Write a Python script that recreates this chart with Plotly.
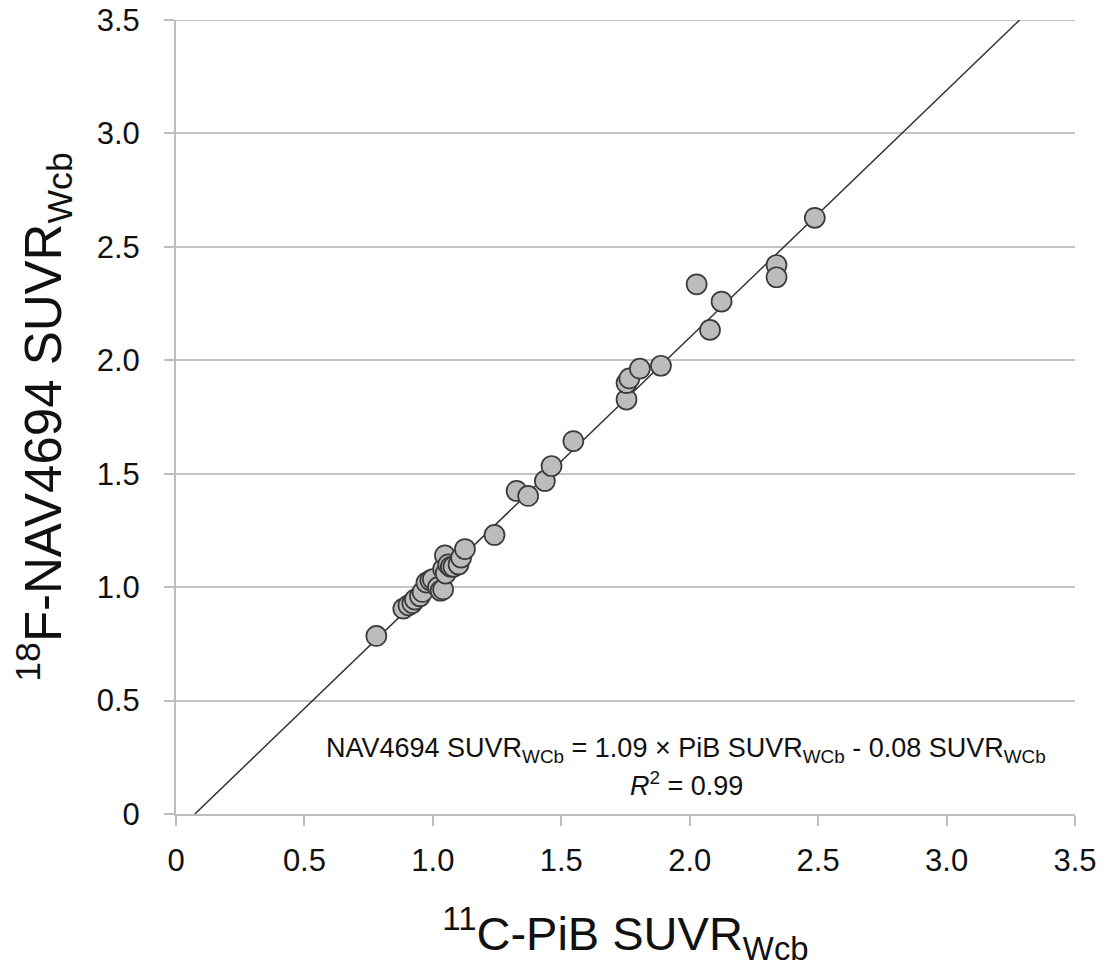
import plotly.graph_objects as go

# Data (11C-PiB SUVR vs 18F-NAV4694 SUVR)
pib_suvr = [0.78, 0.885, 0.905, 0.92, 0.93, 0.95, 0.96, 0.975, 0.99, 1.00, 1.02, 1.03,
            1.04, 1.04, 1.05, 1.047, 1.06, 1.07, 1.08, 1.10, 1.11, 1.125, 1.24,
            1.326, 1.371, 1.436, 1.462, 1.547, 1.754, 1.754, 1.765, 1.806, 1.888,
            2.027, 2.079, 2.124, 2.338, 2.338, 2.487]
nav_suvr = [0.785, 0.905, 0.92, 0.93, 0.945, 0.96, 0.979, 1.02, 1.03, 1.035, 1.00, 0.984,
            0.99, 1.08, 1.06, 1.14, 1.10, 1.09, 1.09, 1.10, 1.13, 1.168, 1.23,
            1.424, 1.402, 1.468, 1.534, 1.644, 1.827, 1.90, 1.92, 1.963, 1.976,
            2.335, 2.134, 2.259, 2.420, 2.366, 2.628]

fit_slope = 1.09
fit_intercept = -0.08
axis_max = 3.5

tick_vals = [0, 0.5, 1.0, 1.5, 2.0, 2.5, 3.0, 3.5]
tick_text = ["0", "0.5", "1.0", "1.5", "2.0", "2.5", "3.0", "3.5"]

line_x = [(0 - fit_intercept) / fit_slope, (axis_max - fit_intercept) / fit_slope]
line_y = [fit_slope * v + fit_intercept for v in line_x]

grid_color = "#c4c4c4"
fig = go.Figure()
# top gridline (plotly drops the gridline that sits on the plot edge)
fig.add_hline(y=tick_vals[-1], line=dict(color=grid_color, width=2), layer="below")
fig.add_trace(go.Scatter(
    x=line_x, y=line_y, mode="lines",
    line=dict(color="#333333", width=1.5), showlegend=False, hoverinfo="skip"))
fig.add_trace(go.Scatter(
    x=pib_suvr, y=nav_suvr, mode="markers",
    marker=dict(size=20, color="#bcbcbc", line=dict(color="#3a3a3a", width=1.7)),
    showlegend=False))

font_fam = "Liberation Sans, Arial, sans-serif"
axis_grey = "#bdbdbd"
fig.update_layout(
    width=1104, height=971,
    margin=dict(l=168, r=37, t=12, b=165),
    plot_bgcolor="white", paper_bgcolor="white",
    font=dict(family=font_fam, color="#111111"),
    xaxis=dict(
        range=[0, axis_max], tickvals=tick_vals, ticktext=tick_text,
        automargin=False, ticklabeloverflow="allow",
        showgrid=False, zeroline=False, showline=True, linecolor=axis_grey, linewidth=2,
        ticks="outside", ticklen=10, tickcolor=axis_grey, tickwidth=2,
        ticklabelstandoff=8,
        tickfont=dict(size=31, family=font_fam, color="#111111"),
        title=dict(text="<sup>11</sup>C-PiB SUVR<sub>Wcb</sub>",
                   font=dict(size=47, family=font_fam, color="#111111"), standoff=40),
    ),
    yaxis=dict(
        range=[0, axis_max], tickvals=tick_vals, ticktext=tick_text,
        automargin=False, ticklabeloverflow="allow",
        showgrid=True, gridcolor=grid_color, gridwidth=2, zeroline=False,
        showline=True, linecolor=axis_grey, linewidth=2,
        ticks="outside", ticklen=10, tickcolor=axis_grey, tickwidth=2,
        ticklabelstandoff=18,
        tickfont=dict(size=31, family=font_fam, color="#111111"),
        title=dict(text="<sup>18</sup>F-NAV4694 SUVR<sub>Wcb</sub>",
                   font=dict(size=51, family=font_fam, color="#111111"), standoff=20),
    ),
)

# annotation positions given in page pixels, converted to paper coordinates
plot_l, plot_r, plot_t, plot_b = 176, 1075, 20, 814
ann_texts = [
    "NAV4694 SUVR<sub>WCb</sub> = 1.09 × PiB SUVR<sub>WCb</sub> - 0.08 SUVR<sub>WCb</sub>",
    "<i>R</i><sup>2</sup> = 0.99",
]
ann_px = [(686, 769), (686, 803)]
for txt, (px, py) in zip(ann_texts, ann_px):
    fig.add_annotation(
        x=(px - plot_l) / (plot_r - plot_l), y=(plot_b - py) / (plot_b - plot_t),
        xref="paper", yref="paper", showarrow=False, text=txt,
        font=dict(size=27, family=font_fam, color="#111111"))

fig.write_html("out.html")
